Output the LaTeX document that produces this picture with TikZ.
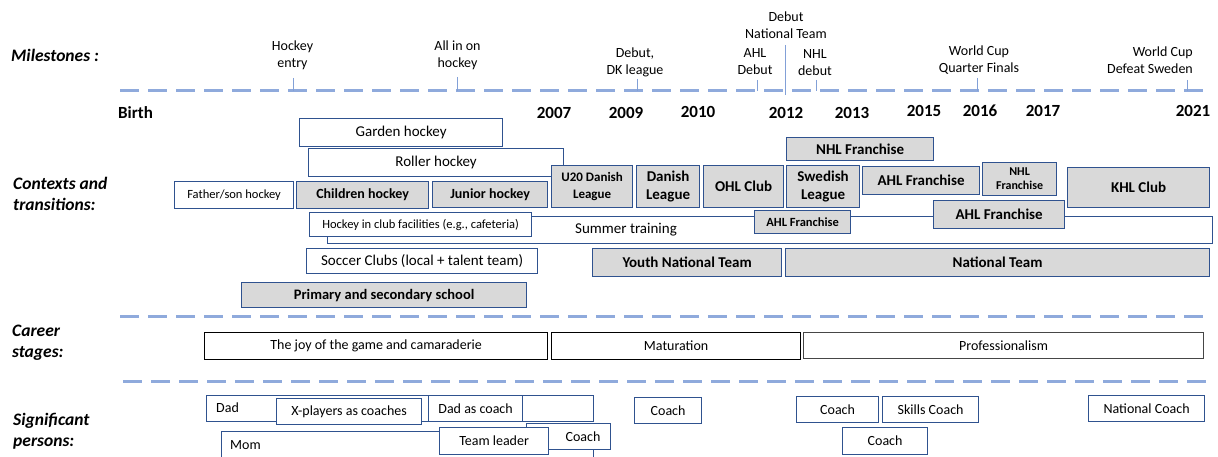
\documentclass[tikz,border=0pt]{standalone}
\usepackage{fontspec}
\setmainfont{Carlito}
\definecolor{boxblue}{RGB}{47,82,143}
\definecolor{boxgrey}{RGB}{217,217,217}
\definecolor{sepblue}{RGB}{143,170,220}
\definecolor{tickblue}{RGB}{130,160,215}
\definecolor{profgrey}{RGB}{70,70,70}
\newcommand\fsz[2]{\fontsize{#1}{#2}\selectfont}
\newcommand\bx[7]{%
  \pgfmathsetmacro\bxw{#5-#3}\pgfmathsetmacro\bxh{#6-#4}%
  \node[#2,anchor=north west,minimum width=\bxw pt,minimum height=\bxh pt] (#1) at (#3,#4) {#7};}
\begin{document}
\begin{tikzpicture}[x=1pt,y=-1pt,
  wb/.style={draw=boxblue,line width=1.2pt,fill=white,inner sep=0pt,align=center,font=\fsz{15}{18}},
  gb/.style={wb,fill=boxgrey,font=\fsz{15}{18}\bfseries},
  cb/.style={draw=black,line width=1.2pt,fill=white,inner sep=0pt,align=center,font=\fsz{14}{17}},
  pb/.style={wb,font=\fsz{14}{17}},
  sepline/.style={draw=sepblue,line width=3pt,dash pattern=on 19pt off 9pt},
  tick/.style={draw=tickblue,line width=0.9pt},
  mtext/.style={align=center,font=\fsz{14}{17},inner sep=0pt},
  ytext/.style={font=\fsz{17}{20}\bfseries,inner sep=0pt},
  sect/.style={anchor=west,align=left,font=\fsz{17.5}{21}\bfseries\itshape,inner sep=0pt}]
\useasboundingbox (0,0) rectangle (1218,457);

% section labels
\node[sect] (lmil) at (11,55) {Milestones :};
\node[sect] (lctx) at (13,194) {Contexts and\\transitions:};
\node[sect] (lcar) at (12,343) {Career\\stages:};
\node[sect] (lsig) at (13,431) {Significant\\persons:};

% separator lines
\draw[sepline] (120,91) -- (1205,91);
\draw[sepline] (120,316) -- (1205,316);
\draw[sepline] (123,381) -- (1207,381);

% milestones
\node[mtext] (m1) at (292.5,55.5) {Hockey\\entry};
\node[mtext] (m2) at (457.5,55.5) {All in on\\hockey};
\node[mtext] (m3) at (635,62) {Debut,\\DK league};
\node[mtext] (m4) at (755,62) {AHL\\Debut};
\node[mtext] (m5) at (786,25.5) {Debut\\National Team};
\node[mtext] (m6) at (815,63) {NHL\\debut};
\node[mtext] (m7) at (979,60.5) {World Cup\\Quarter Finals};
\node[mtext,align=right,anchor=east] (m8) at (1193,60.5) {World Cup\\Defeat Sweden};

\draw[tick] (293,78) -- (293,91);
\draw[tick] (457.5,77) -- (457.5,91);
\draw[tick] (637,79) -- (637,91);
\draw[tick] (757,80) -- (757,91);
\draw[tick] (785,45) -- (785,95);
\draw[tick] (816,80) -- (816,91);
\draw[tick] (977,78) -- (977,91);
\draw[tick] (1187,80) -- (1187,91);

% years
\node[ytext] (yb) at (135.5,113) {Birth};
\node[ytext] (y07) at (554,113) {2007};
\node[ytext] (y09) at (626,113) {2009};
\node[ytext] (y10) at (698,111.5) {2010};
\node[ytext] (y12) at (786,113) {2012};
\node[ytext] (y13) at (852,112.5) {2013};
\node[ytext] (y15) at (924,111) {2015};
\node[ytext] (y16) at (980,111) {2016};
\node[ytext] (y17) at (1043,110.5) {2017};
\node[ytext] (y21) at (1193,110.5) {2021};

% contexts and transitions
\bx{garden}{wb}{299}{118}{502}{146}{Garden hockey}
\bx{roller}{wb}{308}{148}{563}{176}{Roller hockey}
\bx{fatherson}{wb,font=\fsz{12.5}{15}}{174}{181}{293}{208}{Father/son hockey}
\bx{children}{gb,font=\fsz{14}{17}\bfseries}{296}{181}{428}{208}{Children hockey}
\bx{junior}{gb,font=\fsz{14}{17}\bfseries}{432}{181}{547}{207}{Junior hockey}
\bx{u20}{gb,font=\fsz{13}{17}\bfseries}{551}{165}{632}{207}{U20 Danish\\League}
\bx{danish}{gb}{636}{165}{699}{207}{Danish\\League}
\bx{ohl}{gb}{703}{165}{783}{207}{OHL Club}
\bx{nhltop}{gb}{786}{137}{933}{160}{NHL Franchise}
\bx{swedish}{gb}{786}{165}{859}{207}{Swedish\\League}
\bx{ahla}{gb}{862}{166}{979}{194}{AHL Franchise}
\bx{nhlb}{gb,font=\fsz{12}{14}\bfseries}{982}{162}{1056}{195}{NHL\\Franchise}
\bx{khl}{gb}{1067}{167}{1209}{207}{KHL Club}
\bx{summer}{wb}{327}{216}{1212}{243}{}
\node[font=\fsz{15}{18},inner sep=0pt] (summertxt) at (626,229.5) {Summer training};
\bx{facil}{wb,font=\fsz{12.5}{15}}{309}{212}{531}{236}{Hockey in club facilities (e.g., cafeteria)}
\bx{ahlb}{gb,font=\fsz{12.5}{15}\bfseries}{754}{210}{850}{233}{AHL Franchise}
\bx{ahlc}{gb}{933}{200}{1064}{228}{AHL Franchise}
\bx{soccer}{wb}{306}{248}{537}{273}{Soccer Clubs (local + talent team)}
\bx{youthnt}{gb}{592}{248}{781}{276}{Youth National Team}
\bx{nt}{gb}{785}{248}{1209}{276}{National Team}
\bx{school}{gb,font=\fsz{14.5}{17}\bfseries}{241}{282}{526}{307}{Primary and secondary school}

% career stages
\bx{joy}{cb}{204}{332}{547}{359}{The joy of the game and camaraderie}
\bx{mat}{cb}{551}{332}{800}{359}{Maturation}
\bx{prof}{cb,draw=profgrey}{803}{332}{1203}{358}{Professionalism}

% significant persons
\bx{dad}{pb}{206}{395}{593}{421}{}
\node[font=\fsz{14}{17},anchor=west,inner sep=0pt] (dadtxt) at (216,408) {Dad};
\bx{xpl}{pb}{276}{398}{421}{424}{X-players as coaches}
\bx{dadcoach}{pb}{428}{395}{522}{421}{Dad as coach}
\bx{mom}{pb}{221}{431}{593}{462}{}
\node[font=\fsz{14}{17},anchor=west,inner sep=0pt] (momtxt) at (230,445) {Mom};
\bx{coacha}{pb}{526}{423}{610}{449}{}
\node[font=\fsz{14}{17},inner sep=0pt] (coachatxt) at (583,437) {Coach};
\bx{team}{pb}{439}{427}{548}{454}{Team leader}
\bx{coachb}{pb}{634}{397}{701}{423}{Coach}
\bx{coachc}{pb}{796}{396}{878}{422}{Coach}
\bx{skills}{pb}{882}{396}{978}{422}{Skills Coach}
\bx{coachd}{pb}{842}{427}{927}{454}{Coach}
\bx{natcoach}{pb}{1088}{395}{1204}{421}{National Coach}
\end{tikzpicture}
\end{document}
